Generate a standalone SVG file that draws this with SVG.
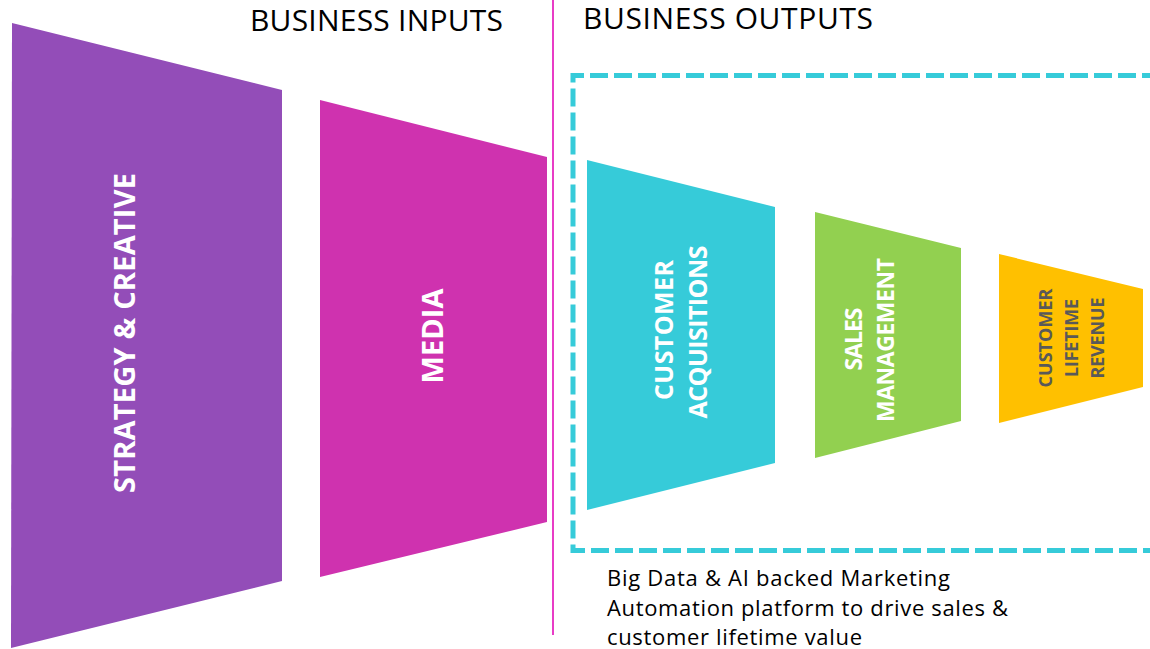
<svg xmlns="http://www.w3.org/2000/svg" width="1150" height="649" viewBox="0 0 1150 649">
  <style>
    .hdr { font-family: "Open Sans", "Liberation Sans", sans-serif; font-size: 30px; fill: #000; }
    .lbl { font-family: "Open Sans", "Liberation Sans", sans-serif; font-weight: bold; fill: #fff; text-anchor: middle; }
    .lbl-dark { fill: #595959; }
    .note { font-family: "Open Sans", "Liberation Sans", sans-serif; font-size: 22px; fill: #000; }
  </style>

  <rect width="1150" height="649" fill="#ffffff"/>

  <!-- headings -->
  <text class="hdr" x="250" y="31" textLength="253">BUSINESS INPUTS</text>
  <text class="hdr" x="583" y="29" textLength="290">BUSINESS OUTPUTS</text>

  <!-- divider and platform frame -->
  <g id="connectors">
    <line x1="553" y1="0" x2="553" y2="635" stroke="#E83CC6" stroke-width="2"/>
    <path d="M1160 75.5 H573 V550.5 H1160" fill="none" stroke="#36CBD9" stroke-width="5" stroke-dasharray="18 6"/>
  </g>

  <g id="strategy-creative">
    <polygon points="12,23 282,90 282,581 11,648" fill="#934DB8"/>
    <text class="lbl" font-size="29" transform="translate(135,333) rotate(-90)" textLength="320">STRATEGY &amp; CREATIVE</text>
  </g>

  <g id="media">
    <polygon points="320,100 547,157 547,522 320,577" fill="#CF32AF"/>
    <text class="lbl" font-size="29" transform="translate(443,336) rotate(-90)" textLength="95">MEDIA</text>
  </g>

  <g id="customer-acquisitions">
    <polygon points="587,160 775,207 775,463 587,510" fill="#36CBD9"/>
    <text class="lbl" font-size="25" transform="translate(673,330) rotate(-90)" textLength="140">CUSTOMER</text>
    <text class="lbl" font-size="25" transform="translate(707,332) rotate(-90)" textLength="173">ACQUISITIONS</text>
  </g>

  <g id="sales-management">
    <polygon points="815,212 961,248 961,421 815,458" fill="#92D050"/>
    <text class="lbl" font-size="23" transform="translate(862,339) rotate(-90)" textLength="63">SALES</text>
    <text class="lbl" font-size="23" transform="translate(894,340) rotate(-90)" textLength="164">MANAGEMENT</text>
  </g>

  <g id="customer-lifetime-revenue">
    <polygon points="999,254 1143,289 1143,387 999,423" fill="#FFC000"/>
    <text class="lbl lbl-dark" font-size="18" transform="translate(1052,338) rotate(-90)" textLength="99">CUSTOMER</text>
    <text class="lbl lbl-dark" font-size="18" transform="translate(1078,338) rotate(-90)" textLength="78">LIFETIME</text>
    <text class="lbl lbl-dark" font-size="18" transform="translate(1104,338) rotate(-90)" textLength="81">REVENUE</text>
  </g>

  <!-- platform caption -->
  <g id="caption">
    <text class="note" x="607" y="586" textLength="343">Big Data &amp; AI backed Marketing</text>
    <text class="note" x="607" y="616" textLength="401">Automation platform to drive sales &amp;</text>
    <text class="note" x="607" y="645" textLength="255">customer lifetime value</text>
  </g>
</svg>
